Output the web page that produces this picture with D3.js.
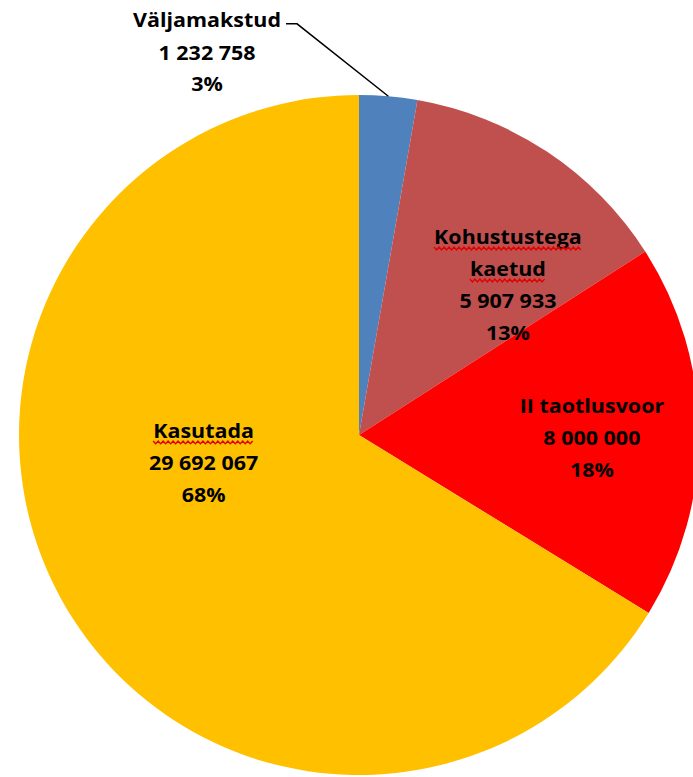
<!DOCTYPE html>
<html>
<head>
<meta charset="utf-8">
<script src="https://cdn.jsdelivr.net/npm/d3@7"></script>
<style>
  html, body { margin: 0; padding: 0; background: #fff; overflow: hidden; }
  text { font-family: "Open Sans", sans-serif; font-weight: bold; fill: #000; }
</style>
</head>
<body>
<svg id="chart" width="693" height="777"></svg>
<script>
// andmed
const categories = ["Väljamakstud", "Kohustustega kaetud", "II taotlusvoor", "Kasutada"];
const values = [1232758, 5907933, 8000000, 29692067];
const percentLabels = ["3%", "13%", "18%", "68%"];
const colors = ["#4F81BD", "#C0504D", "#FF0000", "#FFC000"];
// sõnad, mis on punase lainega alla joonitud
const flaggedWords = ["Kohustustega", "kaetud", "Kasutada"];

const W = 693, H = 777;
const cx = 359, cy = 435, R = 340;
const LINE_H = 32;
const SX = 1.13; // teksti laius

// sildi asukoht pirukakeskme suhtes (R ühikutes)
const labelOffsets = [[-0.447, -1.124], [0.438, -0.441], [0.685, 0.010], [-0.457, 0.082]];
// kategooria nimi mitmele reale
const nameLines = [["Väljamakstud"], ["Kohustustega", "kaetud"], ["II taotlusvoor"], ["Kasutada"]];

const svg = d3.select("#chart");
const fmt = v => d3.format(",")(v).replace(/,/g, " ");

const pie = d3.pie().sort(null).value(d => d.value);
const arc = d3.arc().innerRadius(0).outerRadius(R);

const rows = categories.map((c, i) => ({ name: c, value: values[i], pct: percentLabels[i], idx: i }));
const arcs = pie(rows);

const g = svg.append("g").attr("transform", `translate(${cx},${cy})`);

g.selectAll("path.slice")
    .data(arcs)
    .enter()
    .append("path")
    .attr("class", "slice")
    .attr("d", arc)
    .attr("fill", d => colors[d.data.idx]);

// sildid
arcs.forEach(d => {
    let i = d.data.idx;
    let lines = nameLines[i].concat([fmt(d.data.value), d.data.pct]);
    let lx = labelOffsets[i][0] * R;
    let ly = labelOffsets[i][1] * R;
    let lab = g.append("g")
        .attr("transform", `translate(${lx},${ly}) scale(${SX},1)`);
    let top = -(lines.length - 1) * LINE_H / 2;
    lines.forEach((t, k) => {
        let txt = lab.append("text")
            .attr("x", 0)
            .attr("y", top + k * LINE_H)
            .attr("dy", "0.35em")
            .attr("text-anchor", "middle")
            .style("font-size", "19px")
            .text(t);
        //punane laineline joon
        if (flaggedWords.indexOf(t) >= 0) {
            let bb = txt.node().getBBox();
            let y0 = top + k * LINE_H + 11.5;
            let pts = [];
            let step = 2.2, up = true;
            for (let x = bb.x; x <= bb.x + bb.width; x += step) {
                pts.push([x, up ? y0 - 1.4 : y0 + 1.4]);
                up = !up;
            }
            lab.append("path")
                .attr("d", d3.line()(pts))
                .attr("fill", "none")
                .attr("stroke", "#E00000")
                .attr("stroke-width", 1.3);
        }
        //juhtjoon väljaspool olevale sildile
        if (i === 0 && k === 0) {
            let bb = txt.node().getBBox();
            let x1 = lx + (bb.x + bb.width) * SX + 5;
            let y1 = ly + top + 3;
            let mid = (d.startAngle + d.endAngle) / 2;
            let ex = Math.sin(mid) * R, ey = -Math.cos(mid) * R;
            g.append("path")
                .attr("d", d3.line()([[x1, y1], [x1 + 11, y1], [ex, ey]]))
                .attr("fill", "none")
                .attr("stroke", "#000")
                .attr("stroke-width", 1.5);
        }
    });
});
</script>
</body>
</html>
